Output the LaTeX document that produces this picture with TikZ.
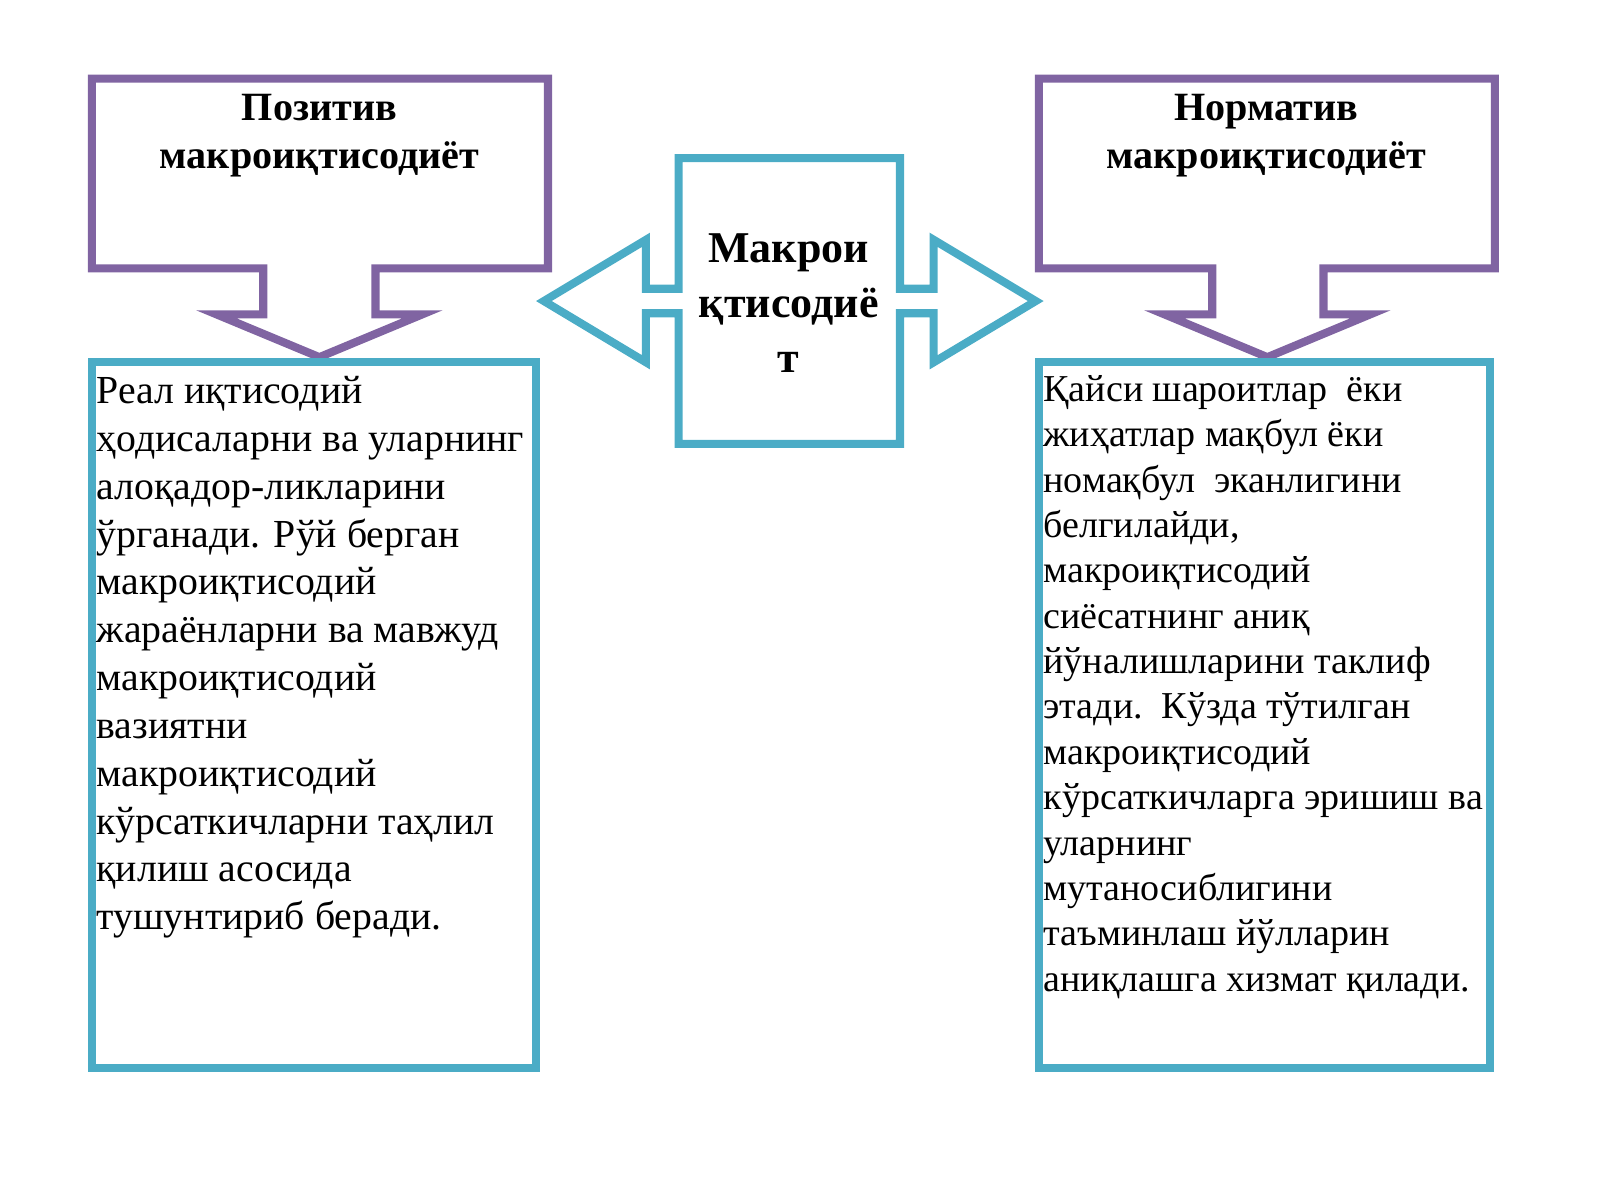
\documentclass[tikz,border=0pt]{standalone}
\usepackage{fontspec}
\setmainfont{Liberation Serif}
\usetikzlibrary{positioning}
\definecolor{Purp}{HTML}{8064A2}
\definecolor{Aqua}{HTML}{4BACC6}
\begin{document}
\begin{tikzpicture}[x=0.0102cm, y=-0.0102cm]
	\tikzset{Callout/.style = {draw=Purp, line width=2.3pt, line join=miter}}
	\tikzset{Box/.style = {draw=Aqua, line width=2.3pt}}
	\tikzset{Head/.style = {font=\bfseries\fontsize{11.4}{13.6}\selectfont, align=center}}
	\tikzset{Body/.style = {anchor=north west, inner sep=0pt, align=left}}
	\useasboundingbox (0,0) rectangle (1568,1176);

	% callouts
	\draw [Callout] (90,77) -- (537,77) -- (537,263) -- (368,263) -- (368,308) -- (414,308) -- (313,350)
		-- (212,308) -- (258,308) -- (258,263) -- (90,263) -- cycle;
	\draw [Callout] (1018,77) -- (1465,77) -- (1465,263) -- (1297,263) -- (1297,308) -- (1343,308) -- (1242,350)
		-- (1141,308) -- (1188,308) -- (1188,263) -- (1018,263) -- cycle;

	% boxes
	\draw [Box] (90,355) rectangle (525,1047);
	\draw [Box] (1018,355) rectangle (1460,1047);
	\draw [Box] (665,155) -- (882,155) -- (882,283) -- (915,283) -- (915,235) -- (1015,295) -- (915,355)
		-- (915,307) -- (882,307) -- (882,435) -- (665,435) -- (665,307) -- (633,307) -- (633,355)
		-- (533,295) -- (633,235) -- (633,283) -- (665,283) -- cycle;

	% texts
	\node (pos) at (313,133) [Head] {Позитив\\макроиқтисодиёт};
	\node (norm) at (1241,133) [Head] {Норматив\\макроиқтисодиёт};
	\node (macro) at (773,297) [Head, font=\bfseries\fontsize{12.5}{15.5}\selectfont] {Макрои\\қтисодиё\\т};
	\node (posT) at (94,368) [Body, font=\fontsize{11.3}{13.6}\selectfont] {Реал иқтисодий\\ҳодисаларни ва уларнинг\\алоқадор-ликларини\\ўрганади. Рўй берган\\макроиқтисодий\\жараёнларни ва мавжуд\\макроиқтисодий\\вазиятни\\макроиқтисодий\\кўрсаткичларни таҳлил\\қилиш асосида\\тушунтириб беради.};
	\node (normT) at (1022,367) [Body, font=\fontsize{10.8}{12.9}\selectfont] {Қайси шароитлар\ \ ёки\\жиҳатлар мақбул ёки\\номақбул\ \ эканлигини\\белгилайди,\\макроиқтисодий\\сиёсатнинг аниқ\\йўналишларини таклиф\\этади.\ \ Кўзда тўтилган\\макроиқтисодий\\кўрсаткичларга эришиш ва\\уларнинг\\мутаносиблигини\\таъминлаш йўлларин\\аниқлашга хизмат қилади.};
\end{tikzpicture}
\end{document}
